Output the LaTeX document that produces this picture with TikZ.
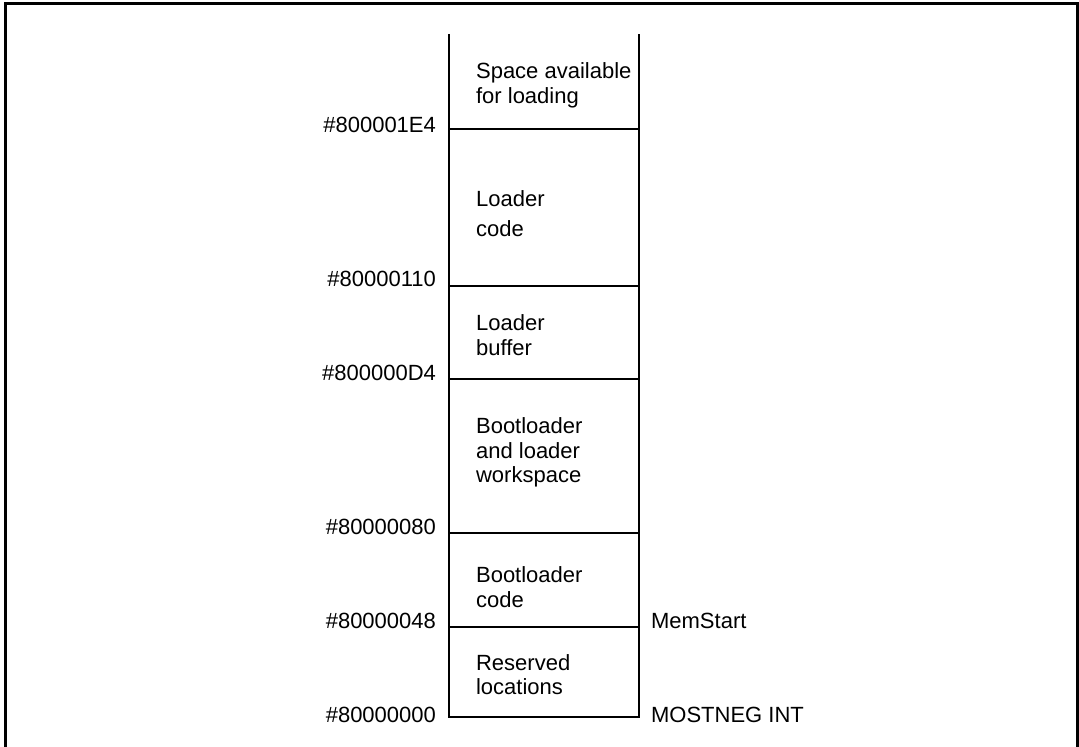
\documentclass[tikz,border=0pt]{standalone}
\usepackage{fontspec}
\setmainfont{Liberation Sans}
\usetikzlibrary{positioning}
\tikzset{
    addr/.style={anchor=east, inner sep=0pt},
    sym/.style={anchor=west, inner sep=0pt},
    area/.style={anchor=west, align=left, inner sep=0pt}
}

\begin{document}
\begin{tikzpicture}[
x=0.5pt, y=-0.5pt,
line width=1.1pt,
every node/.style={font=\fontsize{11}{12.3}\selectfont}
]
\useasboundingbox (0,0) rectangle (1079,747);

% Outer frame
\draw[line width=1.5pt] (5,747) -- (5,4) -- (1077,4) -- (1077,747);

% The memory column
\draw (449,34) -- (449,717) -- (639,717) -- (639,34);
\foreach \y in {129,286,379,533,627}
    \draw (449,\y) -- (639,\y);

% Addresses of the boundaries
\node[addr] (aE4)  at (437,125) {\#800001E4};
\node[addr] (a110) at (437,279) {\#80000110};
\node[addr] (aD4)  at (437,373) {\#800000D4};
\node[addr] (a080) at (437,527) {\#80000080};
\node[addr] (a048) at (437,621) {\#80000048};
\node[addr] (a000) at (437,715) {\#80000000};

% Symbolic names
\node[sym] (memstart) at (650,621) {MemStart};
\node[sym] (mostneg)  at (650,715) {MOSTNEG INT};

% Contents of each area
\node[area] (space)    at (475,85.5) {Space available\\for loading};
\node[area] (ldcode)   at (475,213.5) {Loader\\[3pt]code};
\node[area] (ldbuf)    at (475,335) {Loader\\buffer};
\node[area] (bootws)   at (475,452.5) {Bootloader\\and loader\\workspace};
\node[area] (bootcode) at (475,587) {Bootloader\\code};
\node[area] (reserved) at (475,674.5) {Reserved\\locations};
\end{tikzpicture}
\end{document}
